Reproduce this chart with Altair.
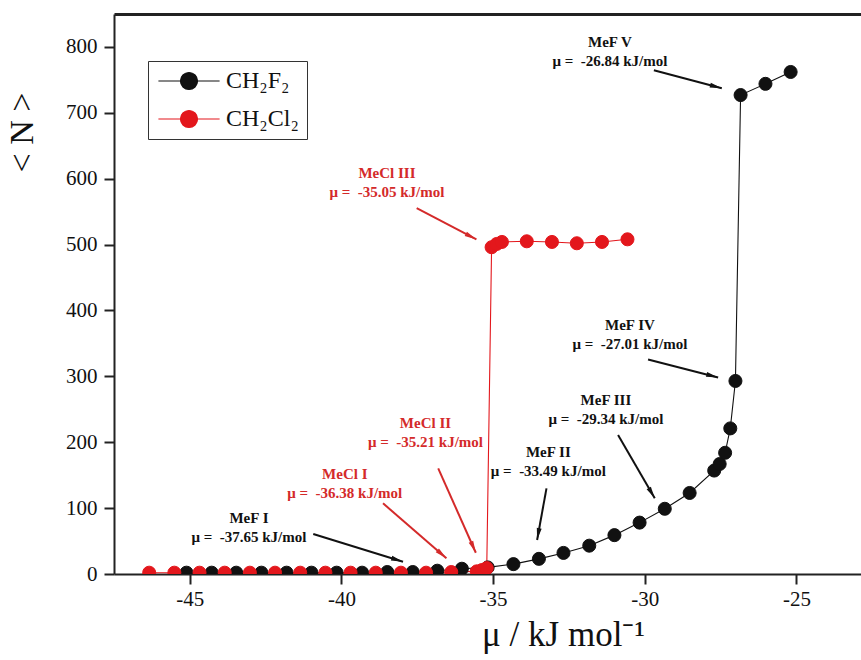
import math
import altair as alt
import pandas as pd

# ---------------- data ----------------
ch2f2_mu = [-45.11, -44.28, -43.47, -42.64, -41.81, -40.99, -40.16, -39.32, -38.49,
            -37.65, -36.84, -36.03, -35.18, -34.33, -33.49, -32.68, -31.83, -31.00,
            -30.17, -29.34, -28.52, -27.71, -27.53, -27.35, -27.18, -27.01, -26.84,
            -26.02, -25.19]
ch2f2_N = [2, 2, 2, 2, 2, 2, 2, 2, 3,
           3, 5, 8, 10, 15, 23, 32, 43, 59,
           78, 99, 123, 157, 167, 184, 221, 293, 727,
           744, 762]

ch2cl2_mu = [-46.34, -45.51, -44.68, -43.85, -43.02, -42.19, -41.36, -40.53, -39.70,
             -38.87, -38.04, -37.21, -36.38, -35.54, -35.37, -35.21, -35.05, -34.88,
             -34.71, -33.89, -33.06, -32.24, -31.41, -30.57]
ch2cl2_N = [2, 2, 2, 2, 2, 2, 2, 2, 2,
            2, 2, 2, 3, 4, 6, 9, 496, 501,
            504, 505, 504, 502, 504, 508]

series_names = ["CH\u2082F\u2082", "CH\u2082Cl\u2082"]

x_ticks = [-45, -40, -35, -30, -25]
y_ticks = [0, 100, 200, 300, 400, 500, 600, 700, 800]

# annotations: label, first-line centre (mu, N), arrow start, arrow end, colour
NB = "\u00a0"
ann_text = ["MeF V\n\u03bc =" + NB + " -26.84 kJ/mol",
            "MeCl III\n\u03bc =" + NB + " -35.05 kJ/mol",
            "MeCl II\n\u03bc =" + NB + " -35.21 kJ/mol",
            "MeCl I\n\u03bc =" + NB + " -36.38 kJ/mol",
            "MeF I\n\u03bc =" + NB + " -37.65 kJ/mol",
            "MeF II\n\u03bc =" + NB + " -33.49 kJ/mol",
            "MeF III\n\u03bc =" + NB + " -29.34 kJ/mol",
            "MeF IV\n\u03bc =" + NB + " -27.01 kJ/mol"]
ann_x = [-31.15, -38.50, -37.23, -39.89, -43.05, -33.18, -31.28, -30.49]
ann_y = [807.5, 608.7, 228.7, 151.8, 84.5, 185.6, 264.1, 378.0]
arr_x1 = [-29.70, -37.52, -36.81, -38.63, -40.93, -33.24, -30.88, -29.89]
arr_y1 = [764.7, 555.3, 160.4, 107.3, 60.7, 130.0, 210.9, 325.7]
arr_x2 = [-27.46, -35.55, -35.57, -36.54, -37.97, -33.55, -29.67, -27.58]
arr_y2 = [737.4, 507.8, 32.3, 23.8, 18.7, 51.6, 114.9, 298.4]
BLACK = "#111111"
RED = "#e3171c"
RED_TXT = "#d42a2a"
ann_color = [BLACK, RED_TXT, RED_TXT, RED_TXT, BLACK, BLACK, BLACK, BLACK]

# ---------------- layout ----------------
W, H = 747, 560
XDOM = [-47.5, -22.87]
YDOM = [0, 850]
kx = W / (XDOM[1] - XDOM[0])
ky = H / (YDOM[1] - YDOM[0])
SERIF = "Liberation Serif"

df = pd.DataFrame({
    "mu": ch2f2_mu + ch2cl2_mu,
    "N": ch2f2_N + ch2cl2_N,
    "series": [series_names[0]] * len(ch2f2_mu) + [series_names[1]] * len(ch2cl2_mu),
    "order": list(range(len(ch2f2_mu))) + list(range(len(ch2cl2_mu))),
})

angles = []
for a, b, c, d in zip(arr_x1, arr_y1, arr_x2, arr_y2):
    dx = (c - a) * kx
    dy = -(d - b) * ky
    angles.append(math.degrees(math.atan2(dx, -dy)) % 360)

ann = pd.DataFrame({"t": ann_text, "x": ann_x, "y": ann_y, "x1": arr_x1, "y1": arr_y1,
                    "x2": arr_x2, "y2": arr_y2, "c": ann_color, "ang": angles})

xs = alt.Scale(domain=XDOM, nice=False, zero=False)
ys = alt.Scale(domain=YDOM, nice=False, zero=False)

X_none = alt.X("mu:Q", scale=xs, axis=None)
Y_none = alt.Y("N:Q", scale=ys, axis=None)

base = alt.Chart(df)

yaxis = alt.Axis(
    orient="left", values=y_ticks, title="< N >", grid=False,
    domainColor="#222", domainWidth=2, tickColor="#222", tickWidth=2, tickSize=10,
    labelFont=SERIF, labelFontSize=21, labelColor="#111", labelPadding=7,
    titleFont=SERIF, titleFontSize=34, titleFontWeight="normal", titleColor="#111",
    titleX=-92, titleY=118, titleAngle=270, titleAlign="center", titleBaseline="middle")

line_f = base.transform_filter(alt.datum.series == series_names[0]).mark_line(
    color=BLACK, strokeWidth=1.1, clip=True
).encode(
    x=alt.X("mu:Q", scale=xs, axis=alt.Axis(orient="top", labels=False, ticks=False,
                                           title=None, grid=False, domainColor="#222",
                                           domainWidth=3)),
    y=alt.Y("N:Q", scale=ys, axis=yaxis), order="order:Q")

line_c = base.transform_filter(alt.datum.series == series_names[1]).mark_line(
    color=RED, strokeWidth=1.1, clip=True
).encode(x=X_none, y=Y_none, order="order:Q")

cscale = alt.Scale(domain=series_names, range=[BLACK, RED])
leg = alt.Legend(
    title=None, orient="none", legendX=34, legendY=47,
    symbolType="M-3.6,0L-1,0M1,0L3.6,0M-1,0A1,1 0 1,1 1,0A1,1 0 1,1 -1,0Z",
    symbolSize=289, symbolStrokeWidth=1.2, symbolOffset=21,
    labelFont=SERIF, labelFontSize=24, labelColor="#111", labelOffset=25,
    strokeColor="#333", padding=8, rowPadding=14,
)

pts = base.mark_point(filled=True, size=170, opacity=1, strokeWidth=1, clip=True).encode(
    x=alt.X("mu:Q", scale=xs, axis=alt.Axis(
        orient="bottom", values=x_ticks, labelExpr="'' + datum.value", title="\u03bc / kJ mol\u207b\u00b9",
        grid=False, domainColor="#222", domainWidth=2, tickColor="#222", tickWidth=2,
        tickSize=10, labelFont=SERIF, labelFontSize=21, labelColor="#111", labelPadding=4,
        titleFont=SERIF, titleFontSize=35, titleFontWeight="normal", titleColor="#111",
        titleX=449, titleY=71, titleAlign="center", titleBaseline="alphabetic")),
    y=Y_none,
    fill=alt.Fill("series:N", scale=cscale, legend=leg),
    stroke=alt.Stroke("series:N", scale=cscale, legend=leg),
    order="order:Q",
)

abase = alt.Chart(ann)
rules = abase.mark_rule(strokeWidth=2).encode(
    x=alt.X("x1:Q", scale=xs, axis=None), y=alt.Y("y1:Q", scale=ys, axis=None),
    x2="x2:Q", y2="y2:Q", color=alt.Color("c:N", scale=None))
heads = abase.mark_point(shape="M0,0L0.45,2.2L-0.45,2.2Z", filled=True, size=119, opacity=1).encode(
    x=alt.X("x2:Q", scale=xs, axis=None), y=alt.Y("y2:Q", scale=ys, axis=None),
    angle=alt.Angle("ang:Q", scale=None), color=alt.Color("c:N", scale=None))
texts = abase.mark_text(font=SERIF, fontSize=15, fontWeight="bold", lineBreak="\n",
                        lineHeight=19, align="center", baseline="middle").encode(
    x=alt.X("x:Q", scale=xs, axis=None), y=alt.Y("y:Q", scale=ys, axis=None),
    text="t:N", color=alt.Color("c:N", scale=None))

chart = alt.layer(line_f, line_c, pts, rules, heads, texts).resolve_axis(
    x="independent", y="independent"
).properties(
    width=W, height=H,
    autosize=alt.AutoSizeParams(type="none"),
    padding={"left": 114, "top": 14, "right": 0, "bottom": 86},
    background="white",
).configure_view(stroke=None)

chart.save("out.html", embed_options={"renderer": "svg", "actions": False})
